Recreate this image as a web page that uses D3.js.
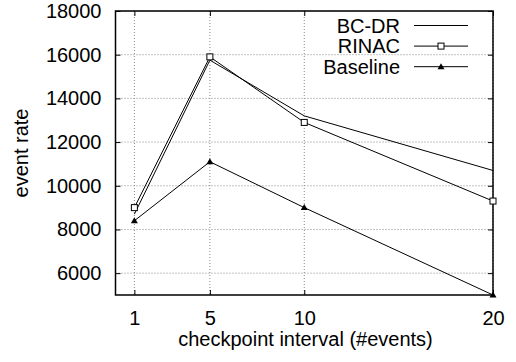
<!DOCTYPE html>
<html>
<head>
<meta charset="utf-8">
<script src="https://cdn.jsdelivr.net/npm/d3@7"></script>
<style>
  body { margin: 0; background: #fff; }
  text { font-family: "Liberation Sans", Arial, sans-serif; fill: #000; }
</style>
</head>
<body>
<div id="chart"></div>
<script>
const intervals = [1, 5, 10, 20];
const bcdr = [8700, 15750, 13200, 10700];
const rinac = [9000, 15900, 12900, 9300];
const baseline = [8400, 11100, 9000, 5000];
const xTicks = [1, 5, 10, 20];
const yTicks = [6000, 8000, 10000, 12000, 14000, 16000, 18000];

const series = [
  { name: 'BC-DR', values: bcdr, marker: 'none' },
  { name: 'RINAC', values: rinac, marker: 'square' },
  { name: 'Baseline', values: baseline, marker: 'triangle' }
];

const W = 516, H = 362;
const margin = { top: 11, right: 23, bottom: 67, left: 115.5 };
const width = W - margin.left - margin.right;
const height = H - margin.top - margin.bottom;
const fs = '20px';

const svg = d3.select('#chart').append('svg')
  .attr('width', W).attr('height', H);
const g = svg.append('g')
  .attr('transform', 'translate(' + margin.left + ',' + margin.top + ')');

const x = d3.scaleLinear().domain([0, 20]).range([0, width]);
const y = d3.scaleLinear().domain([5000, 18000]).range([height, 0]);

// grid
g.selectAll('.gx').data(xTicks).enter().append('line')
  .attr('x1', d => x(d)).attr('x2', d => x(d))
  .attr('y1', 0).attr('y2', height)
  .attr('stroke', '#888').attr('stroke-width', 1).attr('stroke-dasharray', '1,2');
g.selectAll('.gy').data(yTicks).enter().append('line')
  .attr('x1', 0).attr('x2', width)
  .attr('y1', d => y(d)).attr('y2', d => y(d))
  .attr('stroke', '#888').attr('stroke-width', 1).attr('stroke-dasharray', '1,2');

// axes (labels + inward ticks)
const yAxis = g.append('g').call(d3.axisLeft(y).tickValues(yTicks).tickSize(-5).tickPadding(14).tickFormat(d3.format('d')));
const yAxisR = g.append('g').attr('transform', 'translate(' + width + ',0)')
  .call(d3.axisRight(y).tickValues(yTicks).tickSize(-5).tickFormat(''));
const xAxis = g.append('g').attr('transform', 'translate(0,' + height + ')')
  .call(d3.axisBottom(x).tickValues(xTicks).tickSize(-5).tickPadding(16).tickFormat(d3.format('d')));
const xAxisT = g.append('g')
  .call(d3.axisTop(x).tickValues(xTicks).tickSize(-5).tickFormat(''));
[yAxis, yAxisR, xAxis, xAxisT].forEach(a => {
  a.select('.domain').remove();
  a.selectAll('line').attr('stroke', '#000');
  a.selectAll('text').style('font-size', fs).style('font-family', '"Liberation Sans", Arial, sans-serif');
});

// frame
g.append('rect').attr('x', 0).attr('y', 0).attr('width', width).attr('height', height)
  .attr('fill', 'none').attr('stroke', '#000').attr('stroke-width', 1.5);

// lines
const line = d3.line().x((d, i) => x(intervals[i])).y(d => y(d));
series.forEach(s => {
  g.append('path').datum(s.values)
    .attr('fill', 'none').attr('stroke', '#000').attr('stroke-width', 1)
    .attr('d', line);
});

function drawMarker(sel, type, cx, cy) {
  if (type === 'square') {
    sel.append('rect').attr('x', cx - 3).attr('y', cy - 3).attr('width', 6).attr('height', 6)
      .attr('fill', '#fff').attr('stroke', '#000').attr('stroke-width', 1);
  } else if (type === 'triangle') {
    sel.append('path').attr('d', 'M' + cx + ',' + (cy - 3.5) + 'L' + (cx + 3.5) + ',' + (cy + 2.5) + 'L' + (cx - 3.5) + ',' + (cy + 2.5) + 'Z')
      .attr('fill', '#000');
  }
}

series.forEach(s => {
  s.values.forEach((v, i) => drawMarker(g, s.marker, x(intervals[i]), y(v)));
});

// legend
const legend = svg.append('g');
series.forEach((s, i) => {
  const ly = 25.5 + i * 20.6;
  legend.append('text').attr('x', 400).attr('y', ly).attr('dy', '0.36em')
    .attr('text-anchor', 'end').style('font-size', fs).text(s.name);
  legend.append('line').attr('x1', 414).attr('x2', 468).attr('y1', ly).attr('y2', ly)
    .attr('stroke', '#000').attr('stroke-width', 1);
  drawMarker(legend, s.marker, 441, ly);
});

// axis titles
svg.append('text').attr('x', 305.5).attr('y', 346)
  .attr('text-anchor', 'middle').style('font-size', fs).text('checkpoint interval (#events)');
svg.append('text').attr('transform', 'translate(28,' + (margin.top + height / 2) + ') rotate(-90)')
  .attr('text-anchor', 'middle').style('font-size', fs).text('event rate');
</script>
</body>
</html>
